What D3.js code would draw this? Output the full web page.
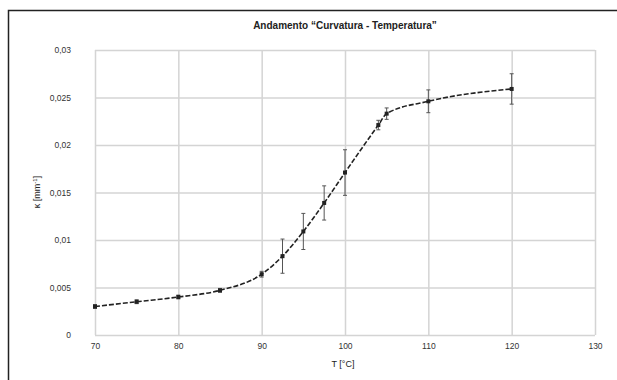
<!DOCTYPE html>
<html><head><meta charset="utf-8">
<script src="https://cdn.jsdelivr.net/npm/d3@7"></script>
<style>body{margin:0;background:#fff}svg{display:block;font-family:"Liberation Sans",Arial,sans-serif}</style>
</head><body><svg id="c" width="617" height="380"></svg>
<script>
const temps = [70, 75, 80, 85, 90, 92.5, 95, 97.5, 100, 104, 105, 110, 120];
const curv = [0.0030, 0.0035, 0.0040, 0.0047, 0.0064, 0.0083, 0.0109, 0.0139, 0.0171, 0.0221, 0.0233, 0.0246, 0.0259];
const errs = [0.0002, 0.0002, 0.0002, 0.0002, 0.0003, 0.0018, 0.0019, 0.0018, 0.0024, 0.0005, 0.0006, 0.0012, 0.0016];
const xTicks = [70, 80, 90, 100, 110, 120, 130];
const yTicks = [0, 0.005, 0.01, 0.015, 0.02, 0.025, 0.03];

const svg = d3.select("#c");
svg.append("rect").attr("x",8.5).attr("y",10.5).attr("width",640).attr("height",400)
  .attr("fill","none").attr("stroke","#222").attr("stroke-width",1.5);

const x = d3.scaleLinear().domain([70,130]).range([95,595]);
const y = d3.scaleLinear().domain([0,0.03]).range([335,50]);
const fmt = v => v===0 ? "0" : String(+v.toFixed(3)).replace(".", ",");

const gx = svg.append("g").attr("transform","translate(0,335)")
  .call(d3.axisBottom(x).tickValues(xTicks).tickSize(-285).tickPadding(8).tickFormat(d3.format("d")));
const gy = svg.append("g").attr("transform","translate(95,0)")
  .call(d3.axisLeft(y).tickValues(yTicks).tickSize(-500).tickPadding(24).tickFormat(fmt));
[gx,gy].forEach(g=>{
  g.select(".domain").remove();
  g.selectAll(".tick line").attr("stroke","#d4d4d4").attr("stroke-width",1.5);
  g.selectAll(".tick text").attr("fill","#333").attr("font-size",8.5);
});

// error bars
const eb = svg.append("g").attr("stroke","#555").attr("stroke-width",1);
temps.forEach((t,i)=>{
  const cx = x(t), y1 = y(curv[i]-errs[i]), y2 = y(curv[i]+errs[i]);
  eb.append("line").attr("x1",cx).attr("x2",cx).attr("y1",y1).attr("y2",y2);
  eb.append("line").attr("x1",cx-2).attr("x2",cx+2).attr("y1",y1).attr("y2",y1);
  eb.append("line").attr("x1",cx-2).attr("x2",cx+2).attr("y1",y2).attr("y2",y2);
});

const line = d3.line().x((d,i)=>x(temps[i])).y(d=>y(d)).curve(d3.curveMonotoneX);
svg.append("path").datum(curv).attr("d",line).attr("fill","none")
  .attr("stroke","#222").attr("stroke-width",1.6).attr("stroke-dasharray","5,2");
svg.append("g").selectAll("rect").data(curv).join("rect")
  .attr("x",(d,i)=>x(temps[i])-2).attr("y",d=>y(d)-2).attr("width",4).attr("height",4)
  .attr("fill","#222");

svg.append("text").attr("x",345).attr("y",29).attr("text-anchor","middle")
  .attr("font-size",10).attr("font-weight","bold").attr("fill","#222")
  .text("Andamento \u201CCurvatura - Temperatura\u201D");
svg.append("text").attr("x",343).attr("y",367).attr("text-anchor","middle")
  .attr("font-size",9).attr("fill","#222").text("T [°C]");
const yl = svg.append("text").attr("transform","translate(40,192) rotate(-90)")
  .attr("text-anchor","middle").attr("font-size",9).attr("fill","#222");
yl.append("tspan").text("\u03BA [mm");
yl.append("tspan").attr("dy",-3).attr("font-size",6).text("-1");
yl.append("tspan").attr("dy",3).text("]");
</script></body></html>
